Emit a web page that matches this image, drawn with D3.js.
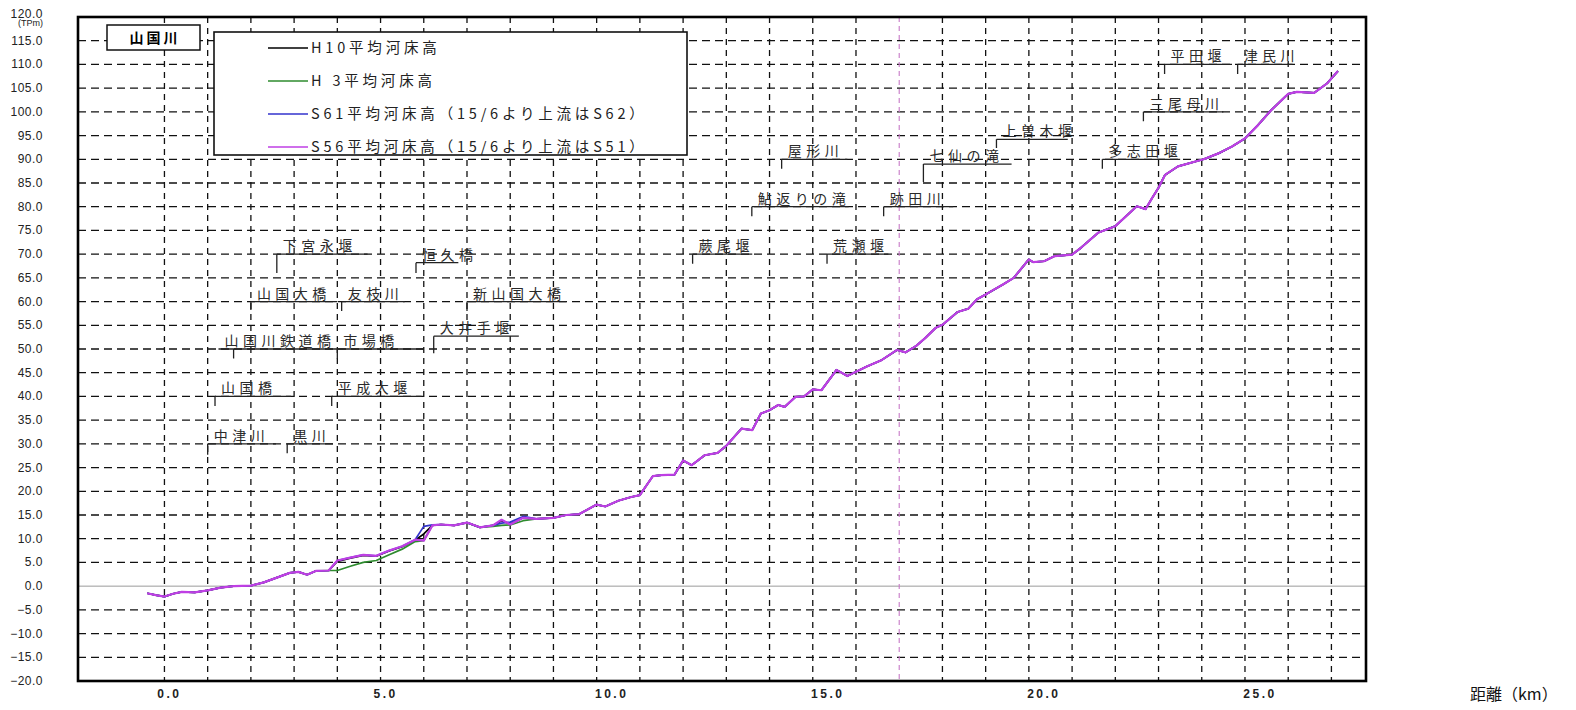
<!DOCTYPE html>
<html>
<head>
<meta charset="utf-8">
<script src="https://cdn.jsdelivr.net/npm/d3@7"></script>
<style>
  body { margin: 0; background: #fff; }
  svg { display: block; }
</style>
</head>
<body>
<svg id="chart" width="1576" height="710"></svg>
<script>
// ---- data (距離 km / 平均河床高 TPm) ----
const km = [-0.4, -0.2, 0.0, 0.2, 0.4, 0.7, 1.0, 1.3, 1.6, 2.0, 2.3, 2.6, 2.9, 3.1, 3.3, 3.5, 3.8, 4.0, 4.3, 4.6,
  4.9, 5.2, 5.5, 5.8, 6.0, 6.2, 6.4, 6.7, 7.0, 7.3, 7.6, 7.8, 8.0, 8.3, 8.6, 9.0, 9.3, 9.6, 10.0, 10.2,
  10.5, 10.8, 11.0, 11.3, 11.5, 11.8, 12.0, 12.2, 12.5, 12.8, 13.0, 13.35, 13.6, 13.8, 14.0, 14.2, 14.35, 14.6, 14.8, 15.0,
  15.2, 15.55, 15.8, 16.0, 16.25, 16.6, 16.95, 17.15, 17.4, 17.6, 17.85, 18.0, 18.35, 18.6, 18.8, 19.0, 19.15, 19.4, 19.65, 20.0,
  20.1, 20.35, 20.6, 21.0, 21.2, 21.6, 22.0, 22.2, 22.5, 22.7, 22.85, 23.0, 23.15, 23.45, 24.0, 24.1, 24.4, 24.7, 25.0, 25.3,
  25.6, 26.0, 26.2, 26.6, 26.9, 27.15];

const h10 = [-1.5, -1.9, -2.2, -1.6, -1.2, -1.3, -0.9, -0.3, 0.0, 0.1, 0.8, 1.8, 2.8, 3.0, 2.4, 3.2, 3.3, 5.2, 5.9, 6.5,
  6.3, 7.4, 8.3, 9.7, 11.0, 12.8, 13.0, 12.8, 13.4, 12.4, 12.8, 13.8, 13.1, 14.4, 14.2, 14.4, 15.0, 15.2, 17.2, 16.8,
  18.0, 18.8, 19.2, 23.2, 23.4, 23.5, 26.5, 25.5, 27.6, 28.1, 29.6, 33.2, 32.9, 36.4, 37.1, 38.2, 37.8, 39.9, 40.0, 41.5,
  41.3, 45.6, 44.3, 45.2, 46.3, 47.7, 49.8, 49.3, 50.7, 52.3, 54.5, 55.1, 57.8, 58.5, 60.5, 61.5, 62.3, 63.6, 65.0, 68.9,
  68.3, 68.5, 69.6, 69.9, 71.3, 74.5, 75.9, 77.6, 80.1, 79.5, 81.8, 84.0, 86.7, 88.5, 89.9, 90.2, 91.3, 92.7, 94.4, 97.2,
  100.3, 103.8, 104.2, 104.0, 106.0, 108.6];

const h3 = [-1.5, -1.9, -2.2, -1.6, -1.2, -1.3, -0.9, -0.3, 0.0, 0.1, 0.8, 1.8, 2.8, 3.0, 2.4, 3.2, 3.3, 3.3, 4.2, 5.0,
  5.4, 6.6, 7.8, 9.4, 9.6, 12.8, 13.0, 12.8, 13.4, 12.4, 12.6, 12.8, 12.9, 13.8, 14.2, 14.4, 15.0, 15.2, 17.2, 16.8,
  18.0, 18.8, 19.2, 23.2, 23.4, 23.5, 26.5, 25.5, 27.6, 28.1, 29.6, 33.2, 32.9, 36.4, 37.1, 38.2, 37.8, 39.9, 40.0, 41.5,
  41.3, 45.6, 44.3, 45.2, 46.3, 47.7, 49.8, 49.3, 50.7, 52.3, 54.5, 55.1, 57.8, 58.5, 60.5, 61.5, 62.3, 63.6, 65.0, 68.9,
  68.3, 68.5, 69.6, 69.9, 71.3, 74.5, 75.9, 77.6, 80.1, 79.5, 81.8, 84.0, 86.7, 88.5, 89.9, 90.2, 91.3, 92.7, 94.4, 97.2,
  100.3, 103.8, 104.2, 104.0, 106.0, 108.6];

const s61 = [-1.5, -1.9, -2.2, -1.6, -1.2, -1.3, -0.9, -0.3, 0.0, 0.1, 0.8, 1.8, 2.8, 3.0, 2.4, 3.2, 3.3, 5.4, 6.0, 6.6,
  6.4, 7.5, 8.4, 9.8, 12.6, 12.9, 13.0, 12.8, 13.4, 12.4, 12.8, 13.3, 13.5, 14.7, 14.2, 14.4, 15.0, 15.2, 17.2, 16.8,
  18.0, 18.8, 19.2, 23.2, 23.4, 23.5, 26.5, 25.5, 27.6, 28.1, 29.6, 33.2, 32.9, 36.4, 37.1, 38.2, 37.8, 39.9, 40.0, 41.5,
  41.3, 45.6, 44.3, 45.2, 46.3, 47.7, 49.8, 49.3, 50.7, 52.3, 54.5, 55.1, 57.8, 58.5, 60.5, 61.5, 62.3, 63.6, 65.0, 68.9,
  68.3, 68.5, 69.6, 69.9, 71.3, 74.5, 75.9, 77.6, 80.1, 79.5, 81.8, 84.0, 86.7, 88.5, 89.9, 90.2, 91.3, 92.7, 94.4, 97.2,
  100.3, 103.8, 104.2, 104.0, 106.0, 108.6];

const s56 = [-1.5, -1.9, -2.2, -1.6, -1.2, -1.3, -0.9, -0.3, 0.0, 0.1, 0.8, 1.8, 2.8, 3.0, 2.4, 3.2, 3.3, 5.4, 6.0, 6.6,
  6.4, 7.5, 8.4, 9.8, 9.6, 12.8, 13.0, 12.8, 13.4, 12.4, 12.8, 14.0, 13.0, 14.4, 14.2, 14.4, 15.0, 15.2, 17.2, 16.8,
  18.0, 18.8, 19.2, 23.2, 23.4, 23.5, 26.5, 25.5, 27.6, 28.1, 29.6, 33.2, 32.9, 36.4, 37.1, 38.2, 37.8, 39.9, 40.0, 41.5,
  41.3, 45.6, 44.3, 45.2, 46.3, 47.7, 49.8, 49.3, 50.7, 52.3, 54.5, 55.1, 57.8, 58.5, 60.5, 61.5, 62.3, 63.6, 65.0, 68.9,
  68.3, 68.5, 69.6, 69.9, 71.3, 74.5, 75.9, 77.6, 80.1, 79.5, 81.8, 84.0, 86.7, 88.5, 89.9, 90.2, 91.3, 92.7, 94.4, 97.2,
  100.3, 103.8, 104.2, 104.0, 106.0, 108.6];

const seriesNames = ['H10平均河床高', 'H 3平均河床高', 'S61平均河床高（15/6より上流はS62）', 'S56平均河床高（15/6より上流はS51）'];
const seriesColors = ['#000000', '#2e8b2e', '#3333cc', '#bf3fe4'];

const xTicks = [0, 5, 10, 15, 20, 25];
const yTicks = d3.range(-20, 121, 5);
const gridKm = d3.range(0, 28);
const boundaryKm = 17; // 15/6

// 横断構造物・支川
const annoNames = ['下宮永堰', '恒久橋', '山国大橋', '友枝川', '新山国大橋', '山国川鉄道橋', '市場橋', '大井手堰',
  '山国橋', '平成大堰', '中津川', '黒川', '蕨尾堰', '荒瀬堰', '鮎返りの滝', '跡田川', '屋形川', '七仙の滝',
  '上曽木堰', '多志田堰', '三尾母川', '平田堰', '津民川'];
const annoTick = [2.6, 5.82, 2.0, 4.1, 7.0, 1.6, 4.0, 6.23, 1.17, 3.87, 1.0, 2.84, 12.22, 15.33, 13.59, 16.64, 14.28, 17.56,
  19.25, 21.7, 22.65, 23.14, 24.83];
const annoStart = [2.6, 5.82, 2.0, 4.1, 7.0, 1.25, 4.0, 6.23, 1.17, 3.87, 1.0, 2.84, 12.22, 15.33, 13.59, 16.64, 14.28, 17.56,
  19.25, 21.7, 22.65, 23.14, 24.83];
const annoEnd = [4.7, 6.8, 4.0, 5.56, 9.3, 4.0, 6.0, 8.2, 2.93, 5.95, 2.58, 3.9, 13.6, 16.75, 15.83, 18.25, 15.8, 19.6,
  20.9, 23.5, 24.5, 24.7, 26.1];
const annoLevel = [70, 68.2, 60, 60, 60, 50, 50, 52.7, 40, 40, 30, 30, 70, 70, 80, 80, 90, 89, 94.2, 90, 100, 110, 110];
const annoDrop = [4, 2.2, 1.8, 2, 2, 2, 2, 3.6, 2, 2, 2.3, 2, 2, 2, 2, 2, 2, 3.8, 1.8, 2, 2, 2, 2];

// ---- drawing ----
const svg = d3.select('#chart');
const x = d3.scaleLinear().domain([-2, 27.8]).range([78, 1366]);
const y = d3.scaleLinear().domain([-20, 120]).range([681, 17]);
const jp = '"Noto Sans CJK JP", "Noto Sans", sans-serif';
const num = '"Liberation Sans", Arial, sans-serif';

const grid = svg.append('g');
grid.selectAll('line.h')
  .data(yTicks.filter(v => v > -20 && v < 120 && v !== 0))
  .enter().append('line')
  .attr('x1', x.range()[0]).attr('x2', x.range()[1])
  .attr('y1', d => y(d)).attr('y2', d => y(d))
  .attr('stroke', '#111').attr('stroke-width', 1.3)
  .attr('stroke-dasharray', '8,5');

grid.selectAll('line.v')
  .data(gridKm.filter(d => d !== boundaryKm))
  .enter().append('line')
  .attr('x1', d => x(d)).attr('x2', d => x(d))
  .attr('y1', y.range()[1]).attr('y2', y.range()[0])
  .attr('stroke', '#111').attr('stroke-width', 1.3)
  .attr('stroke-dasharray', '6,5');

// 0.0 line
svg.append('line')
  .attr('x1', x.range()[0]).attr('x2', x.range()[1])
  .attr('y1', y(0)).attr('y2', y(0))
  .attr('stroke', '#9a9a9a').attr('stroke-width', 1);

// 15/6 boundary
svg.append('line')
  .attr('x1', x(boundaryKm)).attr('x2', x(boundaryKm))
  .attr('y1', y.range()[1]).attr('y2', y.range()[0])
  .attr('stroke', '#c77ac7').attr('stroke-width', 1.1)
  .attr('stroke-dasharray', '5,4');

// profiles
const allSeries = [h10, h3, s61, s56];
const line = d3.line().x((d, i) => x(km[i])).y(d => y(d));
svg.append('g').selectAll('path')
  .data(allSeries)
  .enter().append('path')
  .attr('d', d => line(d))
  .attr('fill', 'none')
  .attr('stroke', (d, i) => seriesColors[i])
  .attr('stroke-width', (d, i) => i === 3 ? 2.2 : 1.7)
  .attr('stroke-linejoin', 'round');

// annotations
const anno = svg.append('g');
annoNames.forEach((name, i) => {
  const lv = y(annoLevel[i]);
  anno.append('path')
    .attr('d', `M${x(annoTick[i])},${y(annoLevel[i] - annoDrop[i])}V${lv}M${x(annoStart[i])},${lv}H${x(annoEnd[i])}`)
    .attr('fill', 'none').attr('stroke', '#222').attr('stroke-width', 1.3);
  anno.append('text')
    .attr('x', x(annoStart[i]) + 6)
    .attr('y', lv - 3)
    .style('font-family', jp)
    .style('font-size', '14px')
    .style('letter-spacing', '4.5px')
    .attr('fill', '#2a2a2a')
    .text(name);
});

// river name box
svg.append('rect')
  .attr('x', 107).attr('y', 25).attr('width', 93).attr('height', 25)
  .attr('fill', '#fff').attr('stroke', '#111').attr('stroke-width', 1.5);
svg.append('text')
  .attr('x', 155).attr('y', 43)
  .attr('text-anchor', 'middle')
  .style('font-family', jp).style('font-size', '14px').style('font-weight', 'bold')
  .style('letter-spacing', '3px')
  .text('山国川');

// legend
const legend = svg.append('g');
legend.append('rect')
  .attr('x', 214).attr('y', 32).attr('width', 473).attr('height', 123)
  .attr('fill', '#fff').attr('stroke', '#111').attr('stroke-width', 1.6);
seriesNames.forEach((name, i) => {
  const ly = 48 + i * 33;
  legend.append('line')
    .attr('x1', 268).attr('x2', 308).attr('y1', ly).attr('y2', ly)
    .attr('stroke', seriesColors[i]).attr('stroke-width', 1.3);
  legend.append('text')
    .attr('x', 311).attr('y', ly + 5)
    .style('font-family', jp).style('font-size', '14.5px')
    .style('letter-spacing', '3.8px')
    .attr('fill', '#222')
    .text(name);
});

// frame
svg.append('rect')
  .attr('x', x.range()[0]).attr('y', y.range()[1])
  .attr('width', x.range()[1] - x.range()[0]).attr('height', y.range()[0] - y.range()[1])
  .attr('fill', 'none').attr('stroke', '#000').attr('stroke-width', 2.6);

// y labels
svg.append('g').selectAll('text')
  .data(yTicks)
  .enter().append('text')
  .attr('x', 43)
  .attr('y', d => d === 120 ? y(d) + 1 : y(d) + 4)
  .attr('text-anchor', 'end')
  .style('font-family', num)
  .style('font-size', '12px')
  .style('letter-spacing', '0.5px')
  .attr('fill', '#222')
  .text(d => d3.format('.1f')(d));
svg.append('text')
  .attr('x', 43).attr('y', 26)
  .attr('text-anchor', 'end')
  .style('font-family', num)
  .style('font-size', '9px')
  .attr('fill', '#222')
  .text('(TPm)');

// x labels
svg.append('g').selectAll('text')
  .data(xTicks)
  .enter().append('text')
  .attr('x', d => x(d) + (d >= 10 ? 15 : 5))
  .attr('y', 698)
  .attr('text-anchor', 'middle')
  .style('font-family', num)
  .style('font-size', '12px')
  .style('font-weight', 'bold')
  .style('letter-spacing', '2.5px')
  .attr('fill', '#222')
  .text(d => d3.format('.1f')(d));

svg.append('text')
  .attr('x', 1470).attr('y', 700)
  .style('font-family', jp).style('font-size', '16px')
  .attr('fill', '#111')
  .text('距離（km）');
</script>
</body>
</html>
